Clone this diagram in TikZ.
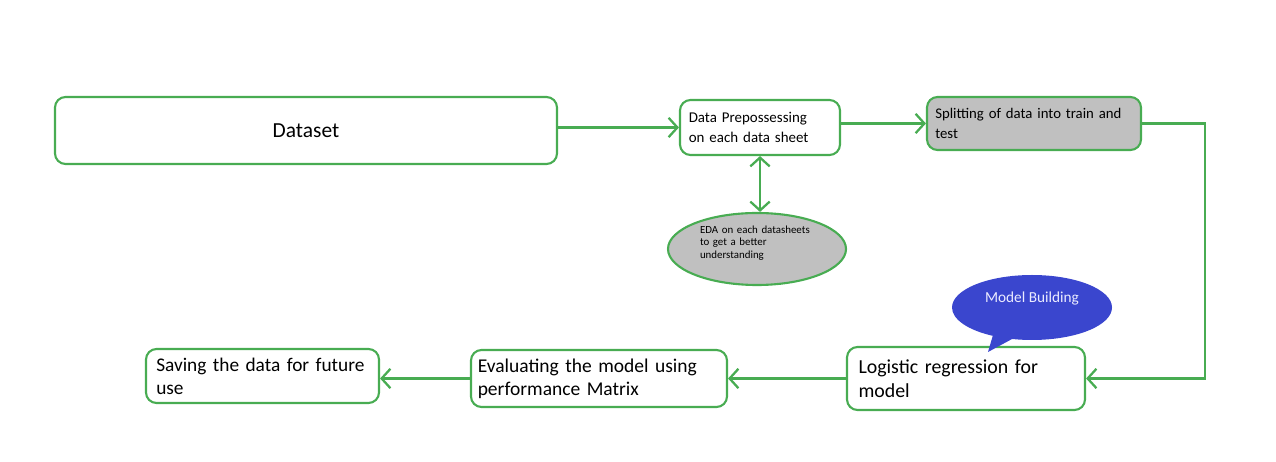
\documentclass[tikz,border=0pt]{standalone}
\usepackage{fontspec}
\setmainfont{Carlito}
\usetikzlibrary{arrows.meta,shapes.geometric,shapes.callouts}
\definecolor{linegreen}{RGB}{72,172,82}
\definecolor{boxgray}{RGB}{192,192,192}
\definecolor{callblue}{RGB}{58,70,206}
\tikzset{
    stepbox/.style={draw=linegreen, line width=1.2pt, rounded corners=6pt, fill=white},
    flow/.style={draw=linegreen, line width=1.3pt, -{Straight Barb[length=5pt,width=11pt]}},
}
\begin{document}
\begin{tikzpicture}
                \useasboundingbox (0,0) rectangle (25.52,9.24);
                % top row
                \node[stepbox, minimum width=10.04cm, minimum height=1.34cm, font=\fontsize{12.2}{14}\selectfont]
                    (data) at (6.12,6.63) {Dataset};
                \node[stepbox, minimum width=3.2cm, minimum height=1.1cm, text width=2.85cm, align=left, font=\fontsize{8.5}{11}\selectfont]
                    (prep) at (15.2,6.69) {Data Prepossessing\\on each data sheet};
                \node[stepbox, fill=boxgray, minimum width=4.28cm, minimum height=1.06cm, text width=3.95cm, align=left, font=\fontsize{8.4}{11}\selectfont]
                    (split) at (20.68,6.77) {Splitting of data into train and\\test};
                \node[ellipse, draw=linegreen, line width=1.2pt, fill=boxgray, minimum width=3.56cm, minimum height=1.44cm, inner sep=0pt]
                    (eda) at (15.14,4.26) {};
                \node[text width=2.4cm, align=left, font=\fontsize{6.2}{7.3}\selectfont]
                    at (15.2,4.38) {EDA on each datasheets\\to get a better\\understanding};
                % bottom row
                \node[stepbox, minimum width=4.76cm, minimum height=1.26cm, text width=4.3cm, align=left, font=\fontsize{11.3}{13.5}\selectfont]
                    (logit) at (19.32,1.67) {Logistic regression for\\model};
                \node[stepbox, minimum width=5.12cm, minimum height=1.14cm, text width=4.85cm, align=left, font=\fontsize{11.1}{13}\selectfont]
                    (eval) at (11.98,1.67) {Evaluating the model using\\performance Matrix};
                \node[stepbox, minimum width=4.66cm, minimum height=1.08cm, text width=4.25cm, align=left, font=\fontsize{11}{13}\selectfont]
                    (save) at (5.25,1.72) {Saving the data for future\\use};
                \node[ellipse callout, fill=callblue, minimum width=3.2cm, minimum height=1.3cm,
                      callout absolute pointer={(19.76,2.2)}, text=blue!8, font=\fontsize{8.7}{9}\selectfont, text depth=0.4cm]
                    (build) at (20.64,3.09) {Model Building};
                \coordinate (turn) at (24.1,6.77);
                % connectors
                \draw[flow] (data.east |- prep.west) -- (prep.west);
                \draw[flow] (prep.east |- split.west) -- (split.west);
                \draw[flow, {Straight Barb[length=5pt,width=11pt]}-{Straight Barb[length=5pt,width=11pt]}]
                    (prep.south) -- (prep.south |- eda.north);
                \draw[flow] (split.east) -- (turn) |- (logit.east);
                \draw[flow] (logit) -- (eval);
                \draw[flow] (eval.west) -- (eval.west -| save.east);
            \end{tikzpicture}
\end{document}
